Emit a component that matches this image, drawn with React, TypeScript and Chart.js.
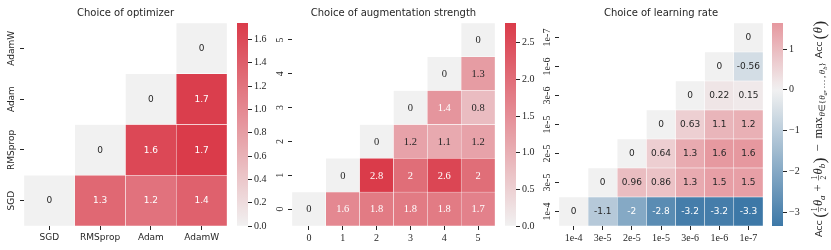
import React, { useEffect, useRef } from "react";
import { Chart, registerables } from "chart.js";

Chart.register(...registerables);

// ---------------- data ----------------
const optLabels = ["SGD", "RMSprop", "Adam", "AdamW"];
const optValues: (number | null)[][] = [
  [0, 1.31, 1.21, 1.38],
  [null, 0, 1.62, 1.74],
  [null, null, 0, 1.71],
  [null, null, null, 0],
];

const augLabels = ["0", "1", "2", "3", "4", "5"];
const augValues: (number | null)[][] = [
  [0, 1.6, 1.8, 1.8, 1.8, 1.7],
  [null, 0, 2.77, 2.0, 2.6, 2.0],
  [null, null, 0, 1.2, 1.1, 1.2],
  [null, null, null, 0, 1.4, 0.8],
  [null, null, null, null, 0, 1.3],
  [null, null, null, null, null, 0],
];

const lrLabels = ["1e-4", "3e-5", "2e-5", "1e-5", "3e-6", "1e-6", "1e-7"];
const lrValues: (number | null)[][] = [
  [0, -1.1, -2.0, -2.8, -3.2, -3.2, -3.34],
  [null, 0, 0.96, 0.86, 1.3, 1.5, 1.5],
  [null, null, 0, 0.64, 1.3, 1.62, 1.64],
  [null, null, null, 0, 0.63, 1.1, 1.2],
  [null, null, null, null, 0, 0.22, 0.15],
  [null, null, null, null, null, 0, -0.56],
  [null, null, null, null, null, null, 0],
];

const cb1Ticks = [0, 0.2, 0.4, 0.6, 0.8, 1.0, 1.2, 1.4, 1.6];
const cb2Ticks = [0, 0.5, 1.0, 1.5, 2.0, 2.5];
const cb3Ticks = [-3, -2, -1, 0, 1];

const titles = ["Choice of optimizer", "Choice of augmentation strength", "Choice of learning rate"];

// ---------------- styling ----------------
const INK = "#262626";
const SANS = '"DejaVu Sans"';
const SERIF = '"Liberation Serif"';
const NEG = [61, 120, 167];
const POS = [218, 59, 74];
const MID = [241, 241, 241];

function cmapRGB(v: number, vr: number): number[] {
  const t = Math.max(-1, Math.min(1, v / vr));
  const end = t < 0 ? NEG : POS;
  const a = Math.abs(t);
  return MID.map((m, i) => Math.round(m + (end[i] - m) * a));
}
function rgbStr(c: number[]) {
  return `rgb(${c[0]},${c[1]},${c[2]})`;
}
function luminance(c: number[]) {
  const l = c.map((x) => {
    const s = x / 255;
    return s <= 0.03928 ? s / 12.92 : Math.pow((s + 0.055) / 1.055, 2.4);
  });
  return 0.2126 * l[0] + 0.7152 * l[1] + 0.0722 * l[2];
}
function fmt2g(v: number) {
  let s = v.toPrecision(2);
  if (s.indexOf(".") >= 0) s = s.replace(/0+$/, "").replace(/\.$/, "");
  if (s === "-0") s = "0";
  return s;
}
function range(values: (number | null)[][]) {
  const flat = values.flat().filter((v) => v !== null) as number[];
  const vmin = Math.min(...flat);
  const vmax = Math.max(...flat);
  return { vmin, vmax, vr: Math.max(Math.abs(vmin), Math.abs(vmax)) };
}

type HeatOpts = {
  title: string;
  labels: string[];
  values: (number | null)[][];
  tickFont: string;
  tickSize: number;
  annotFont: string;
  annotSize: number;
  padRight: number;
};

function heatmapConfig(o: HeatOpts): any {
  const { vr } = range(o.values);
  const n = o.labels.length;
  const datasets = o.values.map((row, r) => ({
    label: o.labels[r],
    data: row.map((v) => (v === null ? null : [r, r + 1])),
    backgroundColor: row.map((v) => (v === null ? "rgba(0,0,0,0)" : rgbStr(cmapRGB(v, vr)))),
    borderColor: "#ffffff",
    borderWidth: 0.5,
    borderSkipped: false,
    barPercentage: 1,
    categoryPercentage: 1,
    grouped: false,
  }));

  const annotPlugin = {
    id: "annot",
    afterDatasetsDraw(chart: any) {
      const ctx = chart.ctx;
      ctx.save();
      ctx.textAlign = "center";
      ctx.textBaseline = "middle";
      ctx.font = `${o.annotSize}px ${o.annotFont}`;
      o.values.forEach((row, di) => {
        const meta = chart.getDatasetMeta(di);
        row.forEach((v, i) => {
          if (v === null) return;
          const el = meta.data[i];
          const p = el.getProps(["x", "y", "base"], true);
          const col = cmapRGB(v, vr);
          ctx.fillStyle = luminance(col) > 0.408 ? INK : "#ffffff";
          ctx.fillText(fmt2g(v), p.x, (p.y + p.base) / 2 + 0.5);
        });
      });
      ctx.restore();
    },
    afterDraw(chart: any) {
      // rotated y tick labels, positioned by the y scale
      const ys = chart.scales.y;
      const ctx = chart.ctx;
      ctx.save();
      ctx.fillStyle = INK;
      ctx.font = `${o.tickSize}px ${o.tickFont}`;
      ctx.textAlign = "center";
      ctx.textBaseline = "middle";
      ys.ticks.forEach((t: any, i: number) => {
        const y = ys.getPixelForTick(i);
        ctx.save();
        ctx.translate(chart.chartArea.left - 12, y);
        ctx.rotate(-Math.PI / 2);
        ctx.fillText(String(t.label), 0, 0);
        ctx.restore();
      });
      ctx.restore();
    },
  };

  return {
    type: "bar",
    data: { labels: o.labels, datasets },
    options: {
      responsive: false,
      animation: false,
      events: [],
      layout: { padding: { right: o.padRight, left: 0, top: 0, bottom: 0 } },
      plugins: {
        legend: { display: false },
        tooltip: { enabled: false },
        title: {
          display: true,
          text: o.title,
          fullSize: false,
          color: INK,
          font: { family: SANS, size: 10, weight: "normal" },
          padding: { top: 7, bottom: 4 },
        },
      },
      scales: {
        x: {
          type: "category",
          offset: true,
          grid: { offset: false, drawOnChartArea: false, drawTicks: true, tickLength: 4, color: INK, tickColor: INK, lineWidth: 1 },
          border: { display: false },
          ticks: {
            color: INK,
            font: { family: o.tickFont, size: o.tickSize },
            padding: 2,
            maxRotation: 0,
            minRotation: 0,
            autoSkip: false,
          },
          afterFit: (s: any) => {
            s.height = 24;
          },
        },
        y: {
          type: "linear",
          min: 0,
          max: n,
          afterBuildTicks: (s: any) => {
            s.ticks = o.labels.map((_, i) => ({ value: i + 0.5 }));
          },
          grid: { drawOnChartArea: false, drawTicks: true, tickLength: 4, color: INK, tickColor: INK, lineWidth: 1 },
          border: { display: false },
          ticks: {
            color: "rgba(0,0,0,0)",
            font: { family: o.tickFont, size: o.tickSize },
            callback: (v: any) => o.labels[Math.round(Number(v) - 0.5)] ?? "",
          },
          afterFit: (s: any) => {
            s.width = 24;
          },
        },
      },
    },
    plugins: [annotPlugin],
  };
}

function drawMathLabel(ctx: CanvasRenderingContext2D, x0: number, y0: number) {
  ctx.save();
  ctx.translate(x0, y0);
  ctx.rotate(-Math.PI / 2);
  ctx.fillStyle = INK;
  ctx.textAlign = "left";
  ctx.textBaseline = "alphabetic";
  let u = 0;
  const SANS9 = `9.5px ${SANS}`;
  const SER = `12.5px ${SERIF}`;
  const SERI = `italic 12.5px ${SERIF}`;
  const SUB = `9px ${SERIF}`;
  const SUBI = `italic 9px ${SERIF}`;
  const TINYI = `italic 6.5px ${SERIF}`;
  const PAREN = `17px ${SERIF}`;
  const put = (t: string, font: string, dv = 0, gap = 0) => {
    u += gap;
    ctx.font = font;
    ctx.fillText(t, u, dv);
    u += ctx.measureText(t).width;
  };
  const frac = () => {
    ctx.font = `7.5px ${SERIF}`;
    const w1 = ctx.measureText("1").width;
    const w2 = ctx.measureText("2").width;
    const w = Math.max(w1, w2) + 1.6;
    ctx.fillText("1", u + (w - w1) / 2, -5.4);
    ctx.fillText("2", u + (w - w2) / 2, 3.9);
    ctx.fillRect(u, -3.9, w, 0.6);
    u += w;
  };
  put("Acc", SANS9);
  put("(", PAREN, 3, 2.5);
  frac();
  put("θ", SERI, 0, 0.6);
  put("a", SUBI, 2.6);
  put("+", SER, 0, 4);
  u += 4;
  frac();
  put("θ", SERI, 0, 0.6);
  put("b", SUBI, 2.6);
  put(")", PAREN, 3, 0.6);
  put("−", SER, 0, 6);
  put("max", SER, 0, 6);
  put("θ", SUBI, 3.2, 0.4);
  put("∈", SUB, 3.2);
  put("{", SUB, 3.2);
  put("θ", SUBI, 3.2);
  put("a", TINYI, 4.8);
  put(",", SUB, 3.2);
  put("…", SUB, 3.2, 1.5);
  put(",", SUB, 3.2, 1.5);
  put("θ", SUBI, 3.2, 1.5);
  put("b", TINYI, 4.8);
  put("}", SUB, 3.2);
  put("Acc", SANS9, 0, 4);
  put("(", PAREN, 3, 2);
  put("θ", SERI, 0, 0.5);
  put(")", PAREN, 3, 0.5);
  ctx.restore();
}

function colorbarConfig(values: (number | null)[][], ticks: number[], fmt: (v: number) => string, axisWidth: number, withLabel: boolean): any {
  const { vmin, vmax, vr } = range(values);
  const plugins: any[] = [];
  if (withLabel) {
    plugins.push({
      id: "cblabel",
      afterDraw(chart: any) {
        drawMathLabel(chart.ctx, chart.chartArea.right + 39, 237);
      },
    });
  }
  return {
    type: "bar",
    data: {
      labels: [""],
      datasets: [
        {
          data: [[vmin, vmax]],
          borderWidth: 0,
          barPercentage: 1,
          categoryPercentage: 1,
          backgroundColor: (c: any) => {
            const chart = c.chart;
            if (!chart.chartArea) return "rgba(0,0,0,0)";
            const ys = chart.scales.y;
            const g = chart.ctx.createLinearGradient(0, ys.getPixelForValue(vmin), 0, ys.getPixelForValue(vmax));
            const steps = 24;
            for (let k = 0; k <= steps; k++) {
              const v = vmin + ((vmax - vmin) * k) / steps;
              g.addColorStop(k / steps, rgbStr(cmapRGB(v, vr)));
            }
            return g;
          },
        },
      ],
    },
    options: {
      responsive: false,
      animation: false,
      events: [],
      layout: { padding: { top: 23, bottom: 24, left: 0, right: 0 } },
      plugins: { legend: { display: false }, tooltip: { enabled: false }, title: { display: false } },
      scales: {
        x: { display: false },
        y: {
          type: "linear",
          position: "right",
          min: vmin,
          max: vmax,
          afterBuildTicks: (s: any) => {
            s.ticks = ticks.map((v) => ({ value: v }));
          },
          grid: { drawOnChartArea: false, drawTicks: true, tickLength: 4, color: INK, tickColor: INK, lineWidth: 1 },
          border: { display: false },
          ticks: {
            color: INK,
            font: { family: SERIF, size: 10 },
            padding: 2,
            callback: (v: any) => fmt(Number(v)),
          },
          afterFit: (s: any) => {
            s.width = axisWidth;
          },
        },
      },
    },
    plugins,
  };
}

export default function App() {
  const r1 = useRef<HTMLCanvasElement>(null);
  const r2 = useRef<HTMLCanvasElement>(null);
  const r3 = useRef<HTMLCanvasElement>(null);
  const c1 = useRef<HTMLCanvasElement>(null);
  const c2 = useRef<HTMLCanvasElement>(null);
  const c3 = useRef<HTMLCanvasElement>(null);

  useEffect(() => {
    document.body.style.margin = "0";
    const charts: Chart[] = [];
    charts.push(
      new Chart(r1.current as HTMLCanvasElement, heatmapConfig({
        title: titles[0], labels: optLabels, values: optValues,
        tickFont: SANS, tickSize: 9, annotFont: SANS, annotSize: 9, padRight: 5,
      }))
    );
    charts.push(
      new Chart(r2.current as HTMLCanvasElement, heatmapConfig({
        title: titles[1], labels: augLabels, values: augValues,
        tickFont: SERIF, tickSize: 10, annotFont: SERIF, annotSize: 10.5, padRight: 5,
      }))
    );
    charts.push(
      new Chart(r3.current as HTMLCanvasElement, heatmapConfig({
        title: titles[2], labels: lrLabels, values: lrValues,
        tickFont: SERIF, tickSize: 10, annotFont: SANS, annotSize: 9, padRight: 5,
      }))
    );
    charts.push(new Chart(c1.current as HTMLCanvasElement, colorbarConfig(optValues, cb1Ticks, (v) => v.toFixed(1), 30, false)));
    charts.push(new Chart(c2.current as HTMLCanvasElement, colorbarConfig(augValues, cb2Ticks, (v) => v.toFixed(1), 30, false)));
    charts.push(new Chart(c3.current as HTMLCanvasElement, colorbarConfig(lrValues, cb3Ticks, (v) => (v < 0 ? "−" + Math.abs(v) : String(v)), 48, true)));
    return () => charts.forEach((c) => c.destroy());
  }, []);

  const abs = (left: number): React.CSSProperties => ({ position: "absolute", left, top: 0 });
  return (
    <div style={{ position: "relative", width: 831, height: 250, background: "#ffffff", overflow: "hidden" }}>
      <canvas ref={r1} width={232} height={250} style={abs(0)} />
      <canvas ref={r2} width={232} height={250} style={abs(268)} />
      <canvas ref={r3} width={233} height={250} style={abs(535)} />
      <canvas ref={c1} width={41} height={250} style={abs(237)} />
      <canvas ref={c2} width={41} height={250} style={abs(505)} />
      <canvas ref={c3} width={59} height={250} style={abs(772)} />
    </div>
  );
}
